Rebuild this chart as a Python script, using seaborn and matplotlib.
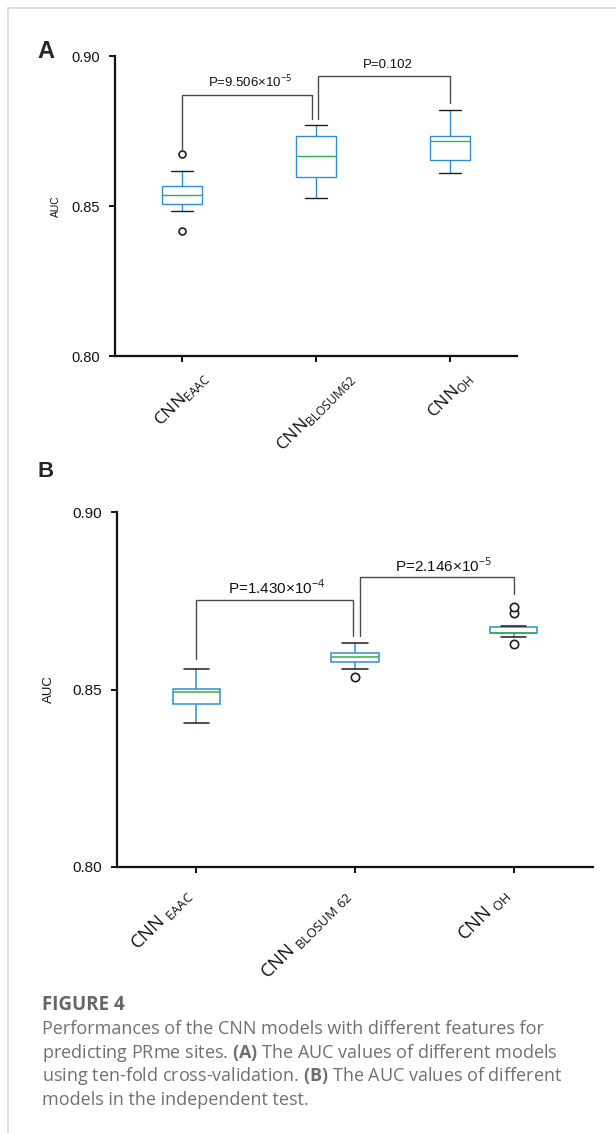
import numpy as np
import pandas as pd
import matplotlib
matplotlib.use('Agg')
import matplotlib.pyplot as plt
import seaborn as sns
from matplotlib.lines import Line2D

models = ['EAAC', 'BLOSUM62', 'OH']
auc_cv_eaac = [0.8416, 0.8485, 0.8495, 0.8508, 0.8515, 0.8525, 0.8536,
               0.8545, 0.8555, 0.8566, 0.8590, 0.8617, 0.8672]
auc_cv_blosum = [0.8528, 0.8560, 0.8597, 0.8630, 0.8667, 0.8700, 0.8733, 0.8750, 0.8770]
auc_cv_oh = [0.8610, 0.8630, 0.8652, 0.8700, 0.8716, 0.8725, 0.8735, 0.8780, 0.8821]

auc_ind_eaac = [0.8407, 0.8440, 0.8460, 0.8480, 0.8493, 0.8497, 0.8501, 0.8530, 0.8559]
auc_ind_blosum = [0.8536, 0.8558, 0.8578, 0.8585, 0.8592, 0.8598, 0.8603, 0.8615, 0.8631]
auc_ind_oh = [0.8628, 0.8648, 0.8653, 0.8658, 0.8659, 0.8659, 0.8659,
              0.8665, 0.8672, 0.8677, 0.8679, 0.8715, 0.8732]

labels_a = [r'CNN$_{\mathrm{EAAC}}$', r'CNN$_{\mathrm{BLOSUM62}}$', r'CNN$_{\mathrm{OH}}$']
labels_b = [r'CNN $_{\mathrm{EAAC}}$', r'CNN $_{\mathrm{BLOSUM\ 62}}$', r'CNN $_{\mathrm{OH}}$']

p_a = [r'P=9.506×10$^{\mathrm{-5}}$', 'P=0.102']
p_b = [r'P=1.430×10$^{\mathrm{-4}}$', r'P=2.146×10$^{\mathrm{-5}}$']


def long_df(groups):
    rows = []
    for m, vals in zip(models, groups):
        for v in vals:
            rows.append({'model': m, 'auc': v})
    return pd.DataFrame(rows)


df_a = long_df([auc_cv_eaac, auc_cv_blosum, auc_cv_oh])
df_b = long_df([auc_ind_eaac, auc_ind_blosum, auc_ind_oh])

sns.set_style('ticks')
plt.rcParams['font.family'] = ['Liberation Sans', 'DejaVu Sans']
plt.rcParams['mathtext.fontset'] = 'custom'
plt.rcParams['mathtext.rm'] = 'Open Sans'
plt.rcParams['mathtext.bf'] = 'Open Sans:bold'

blue = '#2a8fd4'
green = '#2fb14b'
dark = '#1e1e1e'

W, H = 616, 1133
fig = plt.figure(figsize=(W / 100, H / 100), dpi=100)
ax_a = fig.add_axes([115 / W, 1 - 356 / H, 402 / W, 300 / H])
ax_b = fig.add_axes([117 / W, 1 - 867 / H, 476 / W, 355 / H])


def draw_box(ax, df, msize, lw):
    sns.boxplot(data=df, x='model', y='auc', order=models, ax=ax, width=0.3,
                color='white', linecolor=blue, linewidth=lw,
                boxprops={'facecolor': 'white', 'edgecolor': blue},
                medianprops={'color': green},
                whiskerprops={'color': blue},
                capprops={'color': dark},
                flierprops={'marker': 'o', 'markerfacecolor': 'white',
                            'markeredgecolor': dark, 'markersize': msize,
                            'markeredgewidth': 1.2},
                capwidths=0.16)
    ax.set_xlim(-0.5, 2.5)
    ax.set_ylim(0.80, 0.90)
    ax.set_yticks([0.80, 0.85, 0.90])
    ax.set_yticklabels(['0.80', '0.85', '0.90'])
    ax.set_xlabel('')
    for s in ['left', 'bottom']:
        ax.spines[s].set_linewidth(1.6)
        ax.spines[s].set_color('#111')
    sns.despine(ax=ax)
    ax.tick_params(width=1.4, length=4, color='#111', labelcolor='#111')


def bracket(ax, x0, x1, y0, y1, top, txt, tx, ty, fs):
    ax.plot([x0, x0, x1, x1], [y0, top, top, y1], color='#4a4a4a', lw=1.0,
            solid_joinstyle='miter', clip_on=False)
    ax.text(tx, ty, txt, ha='center', va='center', fontsize=fs, color='#111')


# panel A
draw_box(ax_a, df_a, 5, 1.0)
ax_a.tick_params(axis='y', labelsize=10.5, pad=7)
ax_a.set_xticks(range(3))
ax_a.set_xticklabels(labels_a, rotation=45, ha='center', va='top',
                     fontsize=12.5, family='Open Sans')
ax_a.tick_params(axis='x', pad=5)
ax_a.set_ylabel('AUC', fontsize=7.5, color='#111')
ax_a.yaxis.set_label_coords(-0.134, 0.5)
bracket(ax_a, 0, 0.97, 0.8685, 0.8790, 0.8870, p_a[0], 0.507, 0.8914, 9.5)
bracket(ax_a, 1.015, 2.0, 0.8790, 0.8843, 0.8934, p_a[1], 1.537, 0.8970, 9.5)

# panel B
draw_box(ax_b, df_b, 6, 1.1)
ax_b.tick_params(axis='y', labelsize=11, pad=7)
ax_b.set_xticks(range(3))
ax_b.set_xticklabels(labels_b, rotation=45, ha='right', va='top',
                     fontsize=13.3, family='Open Sans')
ax_b.tick_params(axis='x', pad=9)
ax_b.set_ylabel('AUC', fontsize=9.5, color='#111')
ax_b.yaxis.set_label_coords(-0.130, 0.5)
bracket(ax_b, 0, 0.987, 0.8586, 0.8651, 0.8751, p_b[0], 0.506, 0.8789, 11)
bracket(ax_b, 1.03, 2.0, 0.8651, 0.8769, 0.8817, p_b[1], 1.557, 0.8851, 11)

# panel letters
fig.text(46 / W, 1 - 52 / H, 'A', fontsize=17, fontweight='bold', ha='center', va='center')
fig.text(46 / W, 1 - 471 / H, 'B', fontsize=16, fontweight='bold', ha='center', va='center')

# caption
cap_col = '#707070'
fig.text(42 / W, 1 - 1005 / H, 'FIGURE 4', fontsize=13.5, fontweight='bold',
         family='Open Sans', color='#666666', va='center')
cap_lines = [
    'Performances of the CNN models with different features for',
    r'predicting PRme sites. $\mathbf{(A)}$ The AUC values of different models',
    r'using ten-fold cross-validation. $\mathbf{(B)}$ The AUC values of different',
    'models in the independent test.',
]
for yy, line in zip([1029, 1053, 1076, 1100], cap_lines):
    fig.text(42 / W, 1 - yy / H, line, fontsize=13, family='Open Sans',
             color=cap_col, va='center')

# page frame lines
fig.add_artist(Line2D([8 / W, 1], [1 - 8 / H, 1 - 8 / H], color='#d9d9d9', lw=1.2))
fig.add_artist(Line2D([8 / W, 8 / W], [0, 1 - 8 / H], color='#d9d9d9', lw=1.2))

fig.savefig('out.png', dpi=100)
